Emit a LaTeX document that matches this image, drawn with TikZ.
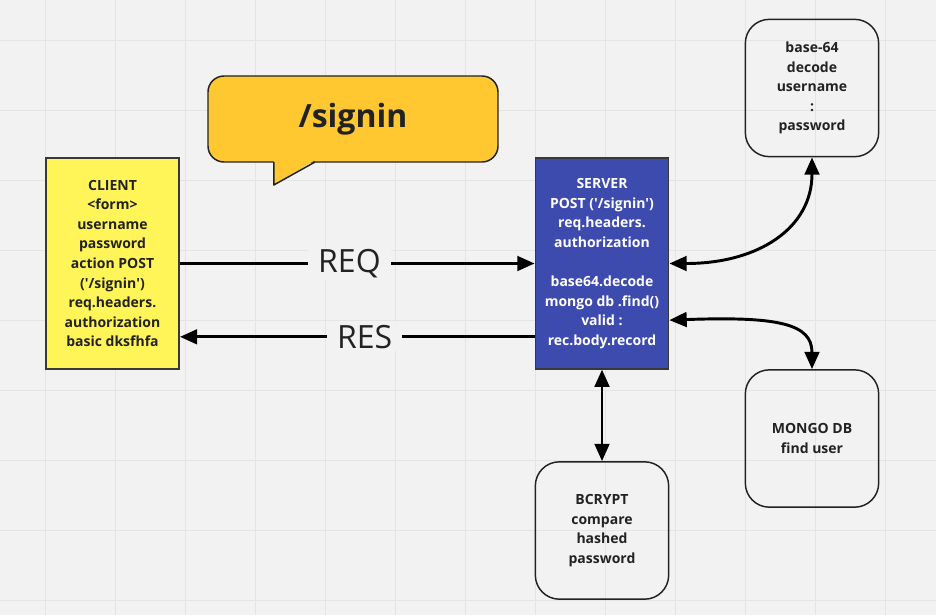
\documentclass[tikz,border=0pt]{standalone}
\usepackage{fontspec}
\setmainfont{Open Sans}
\usepackage{xcolor}
\usetikzlibrary{arrows.meta, positioning}

\definecolor{boardbg}{HTML}{F2F2F2}
\definecolor{gridgray}{HTML}{E4E4E4}
\definecolor{clientyellow}{HTML}{FFF559}
\definecolor{bubbleorange}{HTML}{FFC830}
\definecolor{serverblue}{HTML}{3D4AAE}
\definecolor{inkgray}{HTML}{222222}

\newcommand{\sq}{\textquotesingle}

\begin{document}
\begin{tikzpicture}[
        x=0.75pt, y=-0.75pt,
        gridline/.style={draw=gridgray, line width=0.75pt},
        block/.style={rectangle, draw=inkgray!90, line width=1.1pt, minimum width=100pt, minimum height=158pt, align=center, inner sep=0pt, font=\bfseries\fontsize{10.5}{14.7}\selectfont},
        roundbox/.style={rectangle, rounded corners=18pt, draw=inkgray, line width=1.1pt, minimum width=100pt, minimum height=103pt, align=center, inner sep=0pt, text=inkgray, font=\bfseries\fontsize{10.5}{14.7}\selectfont},
        flowlabel/.style={fill=boardbg, inner xsep=7.5pt, inner ysep=2pt, text=inkgray, font=\fontsize{24}{28}\selectfont},
        >={Triangle[length=13pt, width=11pt]},
        arrow/.style={->, line width=2.2pt},
        twoway/.style={<->, line width=2.2pt}
    ]
    % board
    \fill[boardbg] (0,0) rectangle (936,615);
    \useasboundingbox (0,0) rectangle (936,615);
    \foreach \gx in {45,115,...,885} \draw[gridline] (\gx,0) -- (\gx,615);
    \foreach \gy in {40,110,...,600} \draw[gridline] (0,\gy) -- (936,\gy);

    \node (client) [block, fill=clientyellow, text=inkgray] at (112.5,263.5) {CLIENT\\<form>\\username\\password\\action POST\\(\sq/signin\sq)\\req.headers.\\authorization\\basic dksfhfa};
    \node (server) [block, fill=serverblue, text=white] at (602,263.5) {SERVER\\POST (\sq/signin\sq)\\req.headers.\\authorization\\[14.7pt]base64.decode\\mongo db .find()\\valid :\\rec.body.record};

    \node (base64) [roundbox] at (812,88) {base-64\\decode\\username\\:\\password};
    \node (mongo) [roundbox] at (812,438.5) {MONGO DB\\find user};
    \node (bcrypt) [roundbox] at (602,530.5) {BCRYPT\\compare\\hashed\\password};

    % speech bubble
    \node (signin) [rectangle, rounded corners=12pt, draw=inkgray, line width=1.1pt, fill=bubbleorange, minimum width=217.5pt, minimum height=64.5pt, text=inkgray, font=\bfseries\fontsize{24}{28}\selectfont] at (353,119) {/signin};
    \fill[bubbleorange] (273.8,160) -- (273.8,185) -- (315,160) -- cycle;
    \draw[inkgray, line width=1.1pt, line join=round] (273.8,162) -- (273.8,185) -- (315,162);

    \draw[arrow] (client) -- (server) node[flowlabel, pos=0.478] {REQ};
    \draw[arrow] ([yshift=-55pt]server.west) -- ([yshift=-55pt]client.east) node[flowlabel, pos=0.479] {RES};
    \draw[twoway] (server.east) .. controls +(90,0) and +(0,70) .. (base64.south);
    \draw[twoway] ([yshift=-42.5pt]server.east) .. controls +(110,-4) and +(0,-45) .. (mongo.north);
    \draw[twoway] (server) -- (bcrypt);
\end{tikzpicture}
\end{document}
